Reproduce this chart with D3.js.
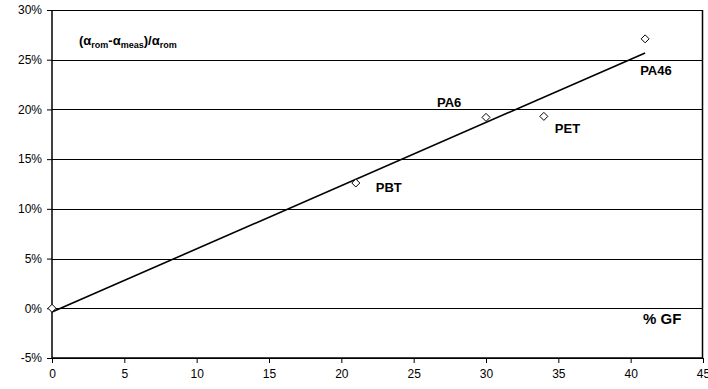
<!DOCTYPE html>
<html>
<head>
<meta charset="utf-8">
<script src="https://cdn.jsdelivr.net/npm/d3@7"></script>
<style>
  body { margin: 0; background: #fff; }
  svg { font-family: "Liberation Sans", Arial, sans-serif; }
</style>
</head>
<body>
<div id="chart"></div>
<script>
// glass fibre content (%) vs relative CTE difference
const materials = ["", "PBT", "PA6", "PET", "PA46"];
const gf = [0, 21, 30, 34, 41];
const ratio = [0, 0.126, 0.192, 0.193, 0.271];
const xTicks = [0, 5, 10, 15, 20, 25, 30, 35, 40, 45];
const yTicks = [-0.05, 0, 0.05, 0.10, 0.15, 0.20, 0.25, 0.30];

const margin = {top: 10, right: 5, bottom: 31, left: 52},
    width = 708 - margin.left - margin.right,
    height = 389 - margin.top - margin.bottom;

const svg = d3.select("#chart")
    .append("svg")
    .attr("width", 708)
    .attr("height", 389)
    .append("g")
    .attr("transform", `translate(${margin.left},${margin.top})`);

const x = d3.scaleLinear().domain([0, 45]).range([0, width]);
const y = d3.scaleLinear().domain([-0.05, 0.30]).range([height, 0]);

// gridlines
svg.append("g")
    .selectAll("line")
    .data(yTicks)
    .enter()
    .append("line")
    .attr("x1", 0)
    .attr("x2", width)
    .attr("y1", d => Math.round(y(d)) + 0.5)
    .attr("y2", d => Math.round(y(d)) + 0.5)
    .style("stroke", "#000")
    .style("stroke-width", 1);

// frame top / right
svg.append("line")
    .attr("x1", 0).attr("x2", width)
    .attr("y1", 0.5).attr("y2", 0.5)
    .style("stroke", "#000");
svg.append("line")
    .attr("x1", width - 0.5).attr("x2", width - 0.5)
    .attr("y1", 0).attr("y2", height)
    .style("stroke", "#000").style("stroke-width", 1.5);

const pct = d => Math.round(d * 100) + "%";

const xAxis = svg.append("g")
    .attr("transform", `translate(0,${height})`)
    .call(d3.axisBottom(x).tickValues(xTicks).tickSize(5).tickPadding(6).tickFormat(d3.format("d")));

const yAxis = svg.append("g")
    .call(d3.axisLeft(y).tickValues(yTicks).tickSize(5).tickPadding(5).tickFormat(pct));

[xAxis, yAxis].forEach(a => {
    a.select(".domain").style("stroke", "#000").style("stroke-width", 1.5);
    a.selectAll(".tick line").style("stroke", "#000");
    a.selectAll("text")
        .style("font-family", "'Liberation Sans', Arial, sans-serif")
        .style("font-size", "12px")
        .style("fill", "#000");
});
xAxis.select(".domain").attr("d", `M0,0H${width}`);
yAxis.select(".domain").attr("d", `M0,0V${height}`);

// linear trend line (least squares)
const mx = d3.mean(gf), my = d3.mean(ratio);
const slope = d3.sum(gf, (v, i) => (v - mx) * (ratio[i] - my)) / d3.sum(gf, v => (v - mx) * (v - mx));
const intercept = my - slope * mx;
const xMin = d3.min(gf), xMax = d3.max(gf);

svg.append("line")
    .attr("x1", x(xMin))
    .attr("y1", y(intercept + slope * xMin))
    .attr("x2", x(xMax))
    .attr("y2", y(intercept + slope * xMax))
    .style("stroke", "#000")
    .style("stroke-width", 1.6);

// diamond markers
const points = gf.map((v, i) => ({gf: v, r: ratio[i], name: materials[i]}));

svg.selectAll("path.pt")
    .data(points)
    .enter()
    .append("path")
    .attr("class", "pt")
    .attr("transform", d => `translate(${x(d.gf)},${y(d.r)})`)
    .attr("d", "M0,-4L4,0L0,4L-4,0Z")
    .style("fill", "#fff")
    .style("stroke", "#000")
    .style("stroke-width", 1);

// point labels
const labelOffsets = {
    PBT: [20, 9],
    PA6: [-49, -10],
    PET: [11, 17],
    PA46: [-5, 36]
};

svg.selectAll("text.lbl")
    .data(points.filter(d => d.name))
    .enter()
    .append("text")
    .attr("class", "lbl")
    .attr("x", d => x(d.gf) + labelOffsets[d.name][0])
    .attr("y", d => y(d.r) + labelOffsets[d.name][1])
    .text(d => d.name)
    .style("font-size", "13px")
    .style("font-weight", "bold")
    .style("fill", "#000");

// y title
const yTitle = svg.append("text")
    .attr("x", 27)
    .attr("y", 35)
    .style("font-size", "13px")
    .style("font-weight", "bold")
    .style("fill", "#000");
yTitle.append("tspan").text("(α");
yTitle.append("tspan").attr("dy", 3).style("font-size", "9px").text("rom");
yTitle.append("tspan").attr("dy", -3).text("-α");
yTitle.append("tspan").attr("dy", 3).style("font-size", "9px").text("meas");
yTitle.append("tspan").attr("dy", -3).text(")/α");
yTitle.append("tspan").attr("dy", 3).style("font-size", "9px").text("rom");

// x title
svg.append("text")
    .attr("x", width - 60)
    .attr("y", y(0) + 16)
    .text("% GF")
    .style("font-size", "15px")
    .style("font-weight", "bold")
    .style("fill", "#000");
</script>
</body>
</html>
